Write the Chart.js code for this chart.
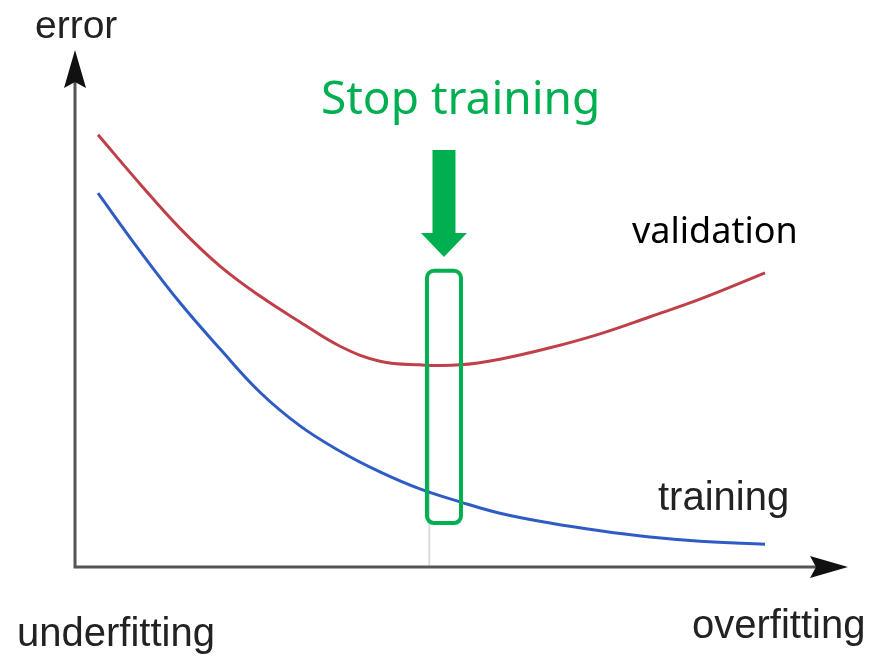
<!DOCTYPE html>
<html>
<head>
<meta charset="utf-8">
<script src="https://cdn.jsdelivr.net/npm/chart.js"></script>
<style>
  html, body { margin: 0; padding: 0; background: #fff; }
  canvas { display: block; }
</style>
</head>
<body>
<canvas id="fitChart" width="869" height="657"></canvas>
<script>
// values (x: 0..100 along the axis, y: 0..10 error)
const modelX = [3.10, 8.53, 13.70, 18.86, 24.03, 29.20, 34.37, 39.53, 44.70, 49.87, 55.04, 61.50, 67.96, 74.42, 80.88, 89.28];
const validationY = [8.36, 7.41, 6.55, 5.82, 5.24, 4.74, 4.27, 3.98, 3.91, 3.91, 4.02, 4.24, 4.51, 4.84, 5.18, 5.69];
const trainingY = [7.23, 6.11, 5.11, 4.22, 3.38, 2.73, 2.24, 1.84, 1.51, 1.26, 1.04, 0.85, 0.70, 0.58, 0.50, 0.44];
const stopX = 45.9;
const stopBox = [45.6, 50.0, 5.73, 0.85]; // x0, x1, yTop, yBottom

const toPoints = (xs, ys) => xs.map((x, i) => ({ x: x, y: ys[i] }));

const sketch = {
  id: 'sketch',
  beforeDatasetsDraw(chart) {
    const ctx = chart.ctx;
    const xs = chart.scales.x, ys = chart.scales.y;
    const a = chart.chartArea;
    ctx.save();
    // faint marker line at the stopping point
    const sx = xs.getPixelForValue(stopX);
    ctx.strokeStyle = '#dcdcdc';
    ctx.lineWidth = 2;
    ctx.beginPath();
    ctx.moveTo(sx, ys.getPixelForValue(3.91));
    ctx.lineTo(sx, a.bottom);
    ctx.stroke();

    // axes
    ctx.strokeStyle = '#555';
    ctx.lineWidth = 3;
    ctx.beginPath();
    ctx.moveTo(a.left + 1, a.top + 30);
    ctx.lineTo(a.left + 1, a.bottom);
    ctx.lineTo(a.right - 30, a.bottom);
    ctx.stroke();

    ctx.fillStyle = '#111';
    ctx.beginPath();
    ctx.moveTo(a.left + 1, a.top);
    ctx.lineTo(a.left + 12, a.top + 38);
    ctx.lineTo(a.left + 1, a.top + 32);
    ctx.lineTo(a.left - 10, a.top + 38);
    ctx.closePath();
    ctx.fill();

    ctx.beginPath();
    ctx.moveTo(a.right, a.bottom);
    ctx.lineTo(a.right - 38, a.bottom - 11);
    ctx.lineTo(a.right - 32, a.bottom);
    ctx.lineTo(a.right - 38, a.bottom + 11);
    ctx.closePath();
    ctx.fill();
    ctx.restore();
  },
  afterDatasetsDraw(chart) {
    const ctx = chart.ctx;
    const xs = chart.scales.x, ys = chart.scales.y;
    ctx.save();

    // green box around the stopping point
    const bx0 = xs.getPixelForValue(stopBox[0]);
    const bx1 = xs.getPixelForValue(stopBox[1]);
    const by0 = ys.getPixelForValue(stopBox[2]);
    const by1 = ys.getPixelForValue(stopBox[3]);
    ctx.strokeStyle = '#00b050';
    ctx.lineWidth = 4;
    ctx.beginPath();
    ctx.roundRect(bx0, by0, bx1 - bx0, by1 - by0, 7);
    ctx.stroke();

    // green arrow
    const cx = (bx0 + bx1) / 2;
    ctx.fillStyle = '#00b050';
    ctx.beginPath();
    ctx.moveTo(cx - 11.5, 150);
    ctx.lineTo(cx + 11.5, 150);
    ctx.lineTo(cx + 11.5, 233);
    ctx.lineTo(cx + 23, 233);
    ctx.lineTo(cx, 257);
    ctx.lineTo(cx - 23, 233);
    ctx.lineTo(cx - 11.5, 233);
    ctx.closePath();
    ctx.fill();

    // labels
    ctx.textBaseline = 'alphabetic';
    ctx.textAlign = 'left';
    ctx.fillStyle = '#00b050';
    ctx.font = '46px "Noto Sans"';
    ctx.fillText('Stop training', 321, 114);

    ctx.fillStyle = '#000';
    ctx.font = '36px "Noto Sans"';
    ctx.fillText('validation', 632, 243);

    ctx.fillStyle = '#222';
    ctx.font = '39px "Liberation Sans"';
    ctx.fillText('error', 35, 38);
    ctx.font = '40px "Liberation Sans"';
    ctx.fillText('training', 658, 510);
    ctx.fillText('overfitting', 692, 638);
    ctx.fillText('underfitting', 17, 646);
    ctx.restore();
  }
};

new Chart(document.getElementById('fitChart').getContext('2d'), {
  type: 'line',
  data: {
    datasets: [
      {
        label: 'validation',
        data: toPoints(modelX, validationY),
        borderColor: '#c0404a',
        borderWidth: 3,
        pointRadius: 0,
        tension: 0.4,
        fill: false
      },
      {
        label: 'training',
        data: toPoints(modelX, trainingY),
        borderColor: '#2f5cc4',
        borderWidth: 3,
        pointRadius: 0,
        tension: 0.4,
        fill: false
      }
    ]
  },
  options: {
    responsive: false,
    animation: false,
    layout: { padding: { left: 74, right: 21, top: 50, bottom: 90 } },
    plugins: { legend: { display: false }, tooltip: { enabled: false } },
    scales: {
      x: { type: 'linear', min: 0, max: 100, display: false },
      y: { min: 0, max: 10, display: false }
    }
  },
  plugins: [sketch]
});
</script>
</body>
</html>
